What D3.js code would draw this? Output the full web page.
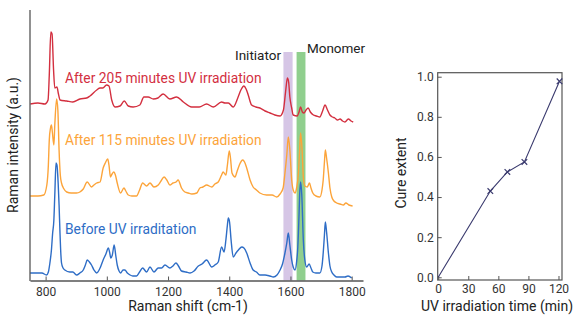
<!DOCTYPE html>
<html>
<head>
<meta charset="UTF-8">
<script src="https://d3js.org/d3.v7.min.js"></script>
<style>
  html, body { margin: 0; padding: 0; background: #fff; overflow: hidden; }
  text { font-family: Roboto, "Noto Sans", sans-serif; }
</style>
</head>
<body>
<div id="chart"></div>
<script>
// ---- spectra (Raman shift in cm-1, intensity in a.u.) ----
const redShift = [750, 775, 798, 808, 812, 817, 821, 826, 830, 837, 842, 847, 869, 889, 912, 934, 945, 967, 978, 987, 999, 1007, 1016, 1027, 1043, 1057, 1070, 1086, 1108, 1121, 1135, 1152, 1167, 1184, 1206, 1228, 1250, 1277, 1302, 1326, 1348, 1375, 1386, 1397, 1413, 1429, 1438, 1448, 1455, 1462, 1473, 1487, 1500, 1517, 1533, 1549, 1566, 1577, 1584, 1590, 1594, 1598, 1604, 1609, 1622, 1628, 1633, 1639, 1644, 1651, 1658, 1665, 1675, 1685, 1696, 1705, 1713, 1721, 1729, 1737, 1745, 1754, 1762, 1770, 1778, 1789, 1798, 1805];
const redInt = [175, 176, 175, 179, 204, 247, 245, 209, 191, 192, 185, 179, 178, 177, 180, 181, 183, 189, 191, 191, 194, 193, 179, 172, 173, 178, 173, 172, 174, 182, 182, 180, 181, 185, 180, 182, 177, 172, 172, 175, 172, 177, 176, 176, 172, 182, 189, 193, 190, 184, 174, 172, 171, 168, 166, 164, 163, 169, 187, 201, 197, 182, 171, 164, 163, 167, 172, 167, 166, 169, 171, 167, 164, 163, 162, 168, 174, 169, 164, 162, 161, 159, 160, 158, 157, 160, 158, 157];

const orangeShift = [749, 775, 794, 804, 809, 812, 816, 819, 822, 827, 830, 836, 840, 844, 848, 852, 860, 869, 883, 901, 912, 923, 936, 950, 958, 967, 978, 988, 995, 1003, 1007, 1012, 1017, 1023, 1028, 1034, 1045, 1056, 1062, 1070, 1082, 1097, 1107, 1117, 1130, 1141, 1154, 1168, 1177, 1187, 1196, 1206, 1216, 1226, 1233, 1244, 1255, 1266, 1278, 1294, 1304, 1314, 1326, 1343, 1353, 1364, 1375, 1380, 1389, 1394, 1400, 1404, 1409, 1419, 1425, 1433, 1444, 1450, 1457, 1468, 1478, 1489, 1500, 1522, 1540, 1555, 1566, 1576, 1582, 1588, 1593, 1598, 1604, 1609, 1615, 1620, 1626, 1630, 1633, 1638, 1642, 1647, 1655, 1662, 1667, 1673, 1683, 1696, 1703, 1707, 1711, 1714, 1718, 1724, 1729, 1735, 1742, 1751, 1762, 1773, 1781, 1791, 1803];
const orangeInt = [83, 83, 84, 94, 114, 139, 151, 154, 147, 134, 154, 180, 169, 129, 104, 96, 90, 87, 86, 86, 87, 90, 97, 92, 94, 96, 97, 111, 116, 120, 114, 102, 105, 107, 104, 96, 86, 91, 88, 84, 83, 83, 89, 96, 93, 96, 92, 94, 98, 102, 99, 94, 96, 97, 99, 91, 87, 86, 85, 86, 91, 92, 94, 92, 95, 97, 104, 107, 104, 114, 128, 121, 106, 102, 107, 114, 119, 117, 111, 99, 92, 89, 86, 84, 84, 82, 85, 91, 106, 124, 142, 129, 99, 89, 86, 91, 106, 129, 146, 129, 102, 93, 92, 96, 91, 86, 83, 82, 89, 99, 117, 129, 121, 106, 91, 82, 78, 76, 75, 74, 76, 74, 73];

const blueShift = [749, 771, 788, 803, 809, 814, 819, 823, 827, 830, 834, 837, 841, 844, 847, 850, 852, 857, 863, 879, 889, 901, 912, 923, 930, 936, 943, 950, 958, 967, 978, 988, 997, 1005, 1009, 1013, 1018, 1024, 1029, 1034, 1040, 1045, 1053, 1059, 1067, 1076, 1085, 1097, 1107, 1117, 1130, 1141, 1154, 1168, 1179, 1190, 1206, 1216, 1226, 1234, 1244, 1259, 1272, 1285, 1299, 1311, 1326, 1343, 1353, 1364, 1375, 1383, 1389, 1394, 1397, 1401, 1406, 1413, 1422, 1430, 1441, 1448, 1457, 1468, 1478, 1489, 1500, 1517, 1533, 1544, 1556, 1566, 1574, 1582, 1588, 1593, 1598, 1604, 1609, 1615, 1620, 1624, 1628, 1630, 1633, 1637, 1642, 1647, 1653, 1661, 1667, 1673, 1683, 1696, 1703, 1707, 1711, 1714, 1718, 1724, 1729, 1735, 1742, 1751, 1762, 1778, 1788, 1800];
const blueInt = [6, 6, 6, 4, 7, 16, 29, 46, 59, 84, 116, 114, 96, 74, 46, 24, 16, 11, 9, 7, 7, 4, 6, 9, 14, 19, 17, 14, 9, 6, 11, 19, 25, 31, 27, 21, 24, 34, 24, 14, 8, 6, 9, 9, 6, 4, 3, 3, 7, 11, 7, 12, 7, 11, 11, 14, 11, 13, 16, 13, 8, 7, 6, 8, 13, 15, 19, 12, 14, 17, 32, 27, 39, 54, 61, 57, 39, 22, 26, 29, 32, 31, 26, 16, 9, 7, 4, 4, 3, 2, 4, 9, 15, 26, 36, 46, 34, 19, 12, 9, 17, 32, 64, 84, 97, 84, 39, 19, 12, 15, 11, 7, 6, 6, 13, 26, 44, 57, 47, 26, 13, 7, 4, 2, 2, 2, 3, 1];

const seriesNames = ["After 205 minutes UV irradiation", "After 115 minutes UV irradiation", "Before UV irraditation"];
const seriesColors = ["#d32f3f", "#fca43a", "#2e6dc6"];
const shiftTicks = [800, 1000, 1200, 1400, 1600, 1800];
const bandNames = ["Initiator", "Monomer"];
const bandRanges = [[1577, 1607], [1620, 1649]];

// ---- cure extent ----
const cureTime = [0, 52, 69, 86, 121];
const cureExtent = [0, 0.43, 0.525, 0.575, 0.977];
const timeTicks = [0, 30, 60, 90, 120];
const extentTicks = [0, 0.2, 0.4, 0.6, 0.8, 1.0];

const svg = d3.select('#chart').append('svg').attr('width', 573).attr('height', 316);
const axisCol = '#555', labCol = '#333';

// ===== left: spectra =====
const x = d3.scaleLinear().domain([749, 1837]).range([30, 363]);
const y = d3.scaleLinear().domain([0, 269]).range([279, 10]);

const bandCol = ['#d6c6e6', '#90cf8e'];
bandRanges.forEach((r, i) => {
    svg.append('rect').attr('x', x(r[0])).attr('y', 52)
        .attr('width', x(r[1]) - x(r[0])).attr('height', 280.5 - 52)
        .style('fill', bandCol[i]);
});
svg.append('text').text(bandNames[0]).attr('x', 258).attr('y', 60)
    .style('text-anchor', 'middle').style('font-size', '13.5px').style('fill', '#222');
svg.append('text').text(bandNames[1]).attr('x', 336).attr('y', 52.5)
    .style('text-anchor', 'middle').style('font-size', '13.5px').style('fill', '#222');

const line = d3.line().x(d => x(d[0])).y(d => y(d[1])).curve(d3.curveMonotoneX);
const spectra = [d3.zip(redShift, redInt), d3.zip(orangeShift, orangeInt), d3.zip(blueShift, blueInt)];
spectra.forEach((s, i) => {
    svg.append('path').datum(s).attr('d', line)
        .style('fill', 'none').style('stroke', seriesColors[i]).style('stroke-width', 1.4);
});

const labelY = [83, 145, 234];
seriesNames.forEach((n, i) => {
    svg.append('text').text(n).attr('x', 65).attr('y', labelY[i])
        .style('font-size', '13.8px').style('fill', seriesColors[i]);
});

const xAxis = svg.append('g').attr('transform', 'translate(0,280.5)')
    .call(d3.axisBottom(x).tickValues(shiftTicks).tickFormat(d3.format('d'))
        .tickSizeInner(-4).tickSizeOuter(0).tickPadding(7));
xAxis.select('.domain').style('stroke', axisCol).style('stroke-width', 1.3);
xAxis.selectAll('.tick line').style('stroke', axisCol);
xAxis.selectAll('.tick text').style('font-size', '12px').style('fill', labCol).style('font-family', 'Roboto');
svg.append('line').attr('x1', 30).attr('x2', 30).attr('y1', 10).attr('y2', 281)
    .style('stroke', axisCol).style('stroke-width', 1.3);

svg.append('text').text('Raman shift (cm-1)').attr('x', 188).attr('y', 311)
    .style('text-anchor', 'middle').style('font-size', '14px').style('fill', '#222');
svg.append('text').text('Raman intensity (a.u.)')
    .attr('transform', 'translate(18,145) rotate(-90)')
    .style('text-anchor', 'middle').style('font-size', '14px').style('fill', '#222');

// ===== right: cure extent =====
const x2 = d3.scaleLinear().domain([-0.5, 123.5]).range([437.7, 562]);
const y2 = d3.scaleLinear().domain([-0.0135, 1.02]).range([280, 72.7]);

const gx = svg.append('g').attr('transform', 'translate(0,280)')
    .call(d3.axisBottom(x2).tickValues(timeTicks).tickSizeInner(-4).tickSizeOuter(0).tickPadding(4));
const gy = svg.append('g').attr('transform', 'translate(437.7,0)')
    .call(d3.axisLeft(y2).tickValues(extentTicks).tickFormat(d3.format('.1f')).tickSizeInner(-4).tickSizeOuter(0).tickPadding(4));
[gx, gy].forEach(g => {
    g.select('.domain').remove();
    g.selectAll('.tick line').style('stroke', axisCol);
    g.selectAll('.tick text').style('font-size', '12px').style('fill', labCol).style('font-family', 'Roboto');
});
svg.append('rect').attr('x', 437.7).attr('y', 72.7).attr('width', 562 - 437.7).attr('height', 280 - 72.7)
    .style('fill', 'none').style('stroke', axisCol).style('stroke-width', 1.2);

const cure = d3.zip(cureTime, cureExtent);
const navy = '#3a3a6e';
svg.append('path').datum(cure)
    .attr('d', d3.line().x(d => x2(d[0])).y(d => y2(d[1])))
    .style('fill', 'none').style('stroke', navy).style('stroke-width', 1.1);
svg.selectAll('.mk').data(cure.slice(1)).enter().append('path').attr('class', 'mk')
    .attr('transform', d => `translate(${x2(d[0])},${y2(d[1])})`)
    .attr('d', d3.symbol(d3.symbolX, 22))
    .style('fill', 'none').style('stroke', navy).style('stroke-width', 1.2);

svg.append('text').text('UV irradiation time (min)').attr('x', 497).attr('y', 311)
    .style('text-anchor', 'middle').style('font-size', '14px').style('fill', '#222');
svg.append('text').text('Cure extent')
    .attr('transform', 'translate(406,173) rotate(-90)')
    .style('text-anchor', 'middle').style('font-size', '14px').style('fill', '#222');
</script>
</body>
</html>
